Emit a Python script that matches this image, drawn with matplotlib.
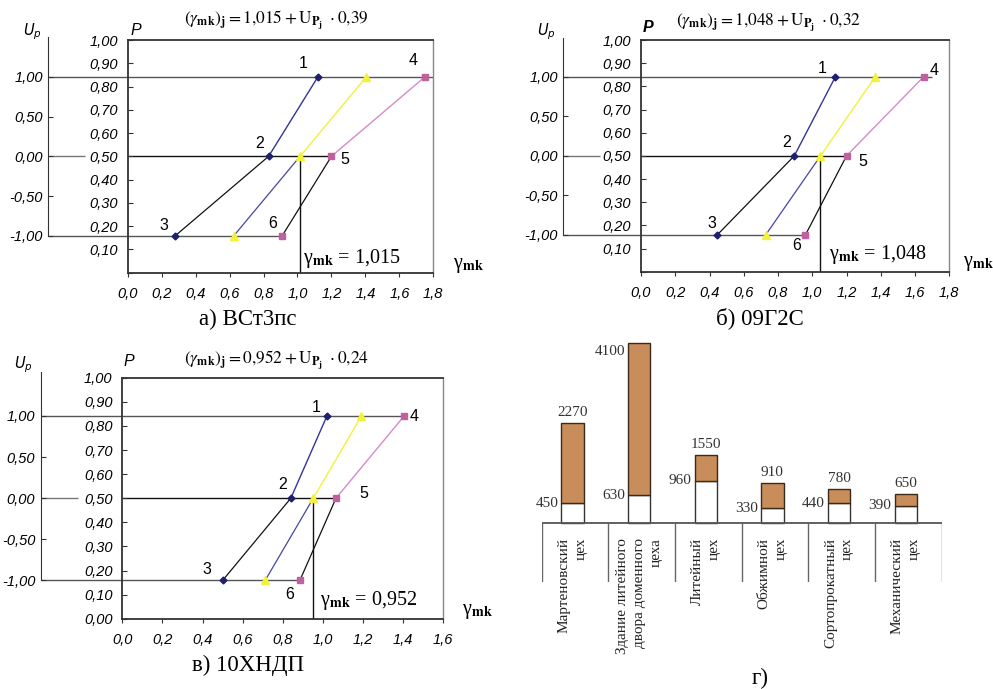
import matplotlib
matplotlib.use('Agg')
import matplotlib.pyplot as plt
import numpy as np

plt.rcParams['font.family'] = ['Liberation Sans', 'DejaVu Sans']

W, H = 993, 689

# ---- data: probability plots (gamma at Up = 1, 0, -1) ----
up_levels = [1.0, 0.0, -1.0]
up_ticks = [1.0, 0.5, 0.0, -0.5, -1.0]

a_curve1 = [1.12, 0.83, 0.28]
a_mean = [1.405, 1.015, 0.625]
a_curve2 = [1.75, 1.20, 0.91]
a_gamma, a_k = 1.015, 0.39

b_curve1 = [1.135, 0.895, 0.445]
b_mean = [1.368, 1.048, 0.728]
b_curve2 = [1.65, 1.20, 0.96]
b_gamma, b_k = 1.048, 0.32

c_curve1 = [1.02, 0.84, 0.50]
c_mean = [1.192, 0.952, 0.712]
c_curve2 = [1.405, 1.065, 0.885]
c_gamma, c_k = 0.952, 0.24

# ---- data: bar chart ----
shops = ["Мартеновский\nцех", "Здание литейного\nдвора доменного\nцеха", "Литейный\nцех",
         "Обжимной\nцех", "Сортопрокатный\nцех", "Механический\nцех"]
low_vals = [450, 630, 960, 330, 440, 390]
high_vals = [2270, 4100, 1550, 910, 780, 650]

NAVY = '#1f1f70'
NAVY_L = '#34349a'
YEL = '#f2f23a'
PINK = '#c0609e'
PINK_L = '#d58bc9'
SERIF = 'Liberation Serif'


def p_of_up(u):
    return 0.5 + 0.3413 * u


def fmt(v, nd):
    return f"{v:.{nd}f}".replace('.', ',')


fig = plt.figure(figsize=(W / 100, H / 100), dpi=100)


def prob_panel(frame, up_x, up_top, xmax, curve1, mean, curve2, gamma, k,
               caption, offs, show_zero, txt):
    l, t, r, b = frame
    ax = fig.add_axes([l / W, 1 - b / H, (r - l) / W, (b - t) / H])
    ax.set_facecolor('none')
    ax.set_xlim(0, xmax)
    ax.set_ylim(0, 1)
    xt = np.round(np.arange(0, xmax + 0.01, 0.2), 1)
    ax.set_xticks(xt)
    ax.set_xticklabels([fmt(v, 1) for v in xt], fontstyle='italic', fontsize=10.5)
    yt = np.round(np.arange(0, 1.001, 0.1), 2)
    ax.set_yticks(yt)
    ax.set_yticklabels([fmt(v, 2) if (v > 0 or show_zero) else '' for v in yt],
                       fontstyle='italic', fontsize=10.5)
    ax.tick_params(axis='y', direction='in', length=3.5, pad=7, color='#333')
    ax.tick_params(axis='x', direction='out', length=3, pad=7, color='#333')
    for s in ax.spines.values():
        s.set_color('#333')
        s.set_linewidth(1.3)
    ax.spines['right'].set_color('#888')
    ax.spines['right'].set_linewidth(1.0)

    p = [p_of_up(u) for u in up_levels]
    x_up = (up_x - l) / (r - l) * xmax
    x_gap = (txt['gap'] - l) / (r - l) * xmax
    ax.hlines(p[0], x_up, txt['top_end'], color='#555', lw=1.0, clip_on=False, zorder=1)
    ax.hlines(p[2], x_up, curve2[2], color='#555', lw=1.0, clip_on=False, zorder=1)
    ax.hlines(p[1], x_up, x_gap, color='#777', lw=1.0, clip_on=False, zorder=1)
    ax.hlines(p[1], 0, curve2[1], color='#111', lw=1.0, zorder=1)
    ax.vlines(gamma, 0, p[1], color='#111', lw=1.0, zorder=1)

    ax.plot(curve1[:2], p[:2], color=NAVY_L, lw=1.0, zorder=2)
    ax.plot(curve1[1:], p[1:], color='#111', lw=0.9, zorder=2)
    ax.plot(mean[:2], p[:2], color=YEL, lw=1.0, zorder=2)
    ax.plot(mean[1:], p[1:], color='#4545a8', lw=0.9, zorder=2)
    ax.plot(curve2[:2], p[:2], color=PINK_L, lw=1.0, zorder=2)
    ax.plot(curve2[1:], p[1:], color='#111', lw=0.9, zorder=2)
    ax.plot(curve1, p, 'D', ms=3.5, color=NAVY, zorder=3)
    ax.plot(mean, p, '^', ms=5.5, color=YEL, zorder=3)
    ax.plot(curve2, p, 's', ms=4.3, color=PINK, zorder=3)

    pts = [(curve1[0], p[0]), (curve1[1], p[1]), (curve1[2], p[2]),
           (curve2[0], p[0]), (curve2[1], p[1]), (curve2[2], p[2])]
    for i, (xy, o) in enumerate(zip(pts, offs)):
        ax.annotate(str(i + 1), xy, xytext=o, textcoords='offset pixels',
                    ha='center', va='center', fontsize=11.5)

    gs = fmt(gamma, 3)
    gsm = gs.replace(',', '{,}')
    ks = fmt(k, 2).replace(',', '{,}')
    ax.text(txt['fx'], txt['fy'],
            r'$(\gamma_{\mathbf{mk}})_{\mathbf{j}} = ' + gsm +
            r' + \mathrm{U}_{\mathbf{P_j}}\ \cdot ' + ks + '$',
            transform=ax.transAxes, ha='center', va='center',
            math_fontfamily='stix', fontsize=12.5)
    ax.text(txt['gx'], txt['gy'], 'γ$_{\\mathbf{mk}}$ = ' + gs,
            ha='left', va='center', family=SERIF, math_fontfamily='stix', fontsize=14.5)
    ax.text(txt['lx'], txt['ly'], 'γ$_{\\mathbf{mk}}$', transform=ax.transAxes,
            ha='left', va='center', family=SERIF, math_fontfamily='stix', fontsize=14.5)
    ax.text(txt['ux'], txt['uy'], r'$U_p$', transform=ax.transAxes, ha='center',
            va='center', math_fontfamily='dejavusans', fontsize=10.5)
    ax.text(txt['px'], txt['py'], 'P', transform=ax.transAxes, ha='center',
            va='center', fontstyle='italic', fontsize=11.5, fontweight=txt['pw'])
    ax.text(txt['cx'], txt['cy'], caption, transform=ax.transAxes, ha='center',
            va='center', family=SERIF, fontsize=16.5)

    # Up axis
    ax_up = fig.add_axes([up_x / W, 1 - b / H, 0.02, (b - up_top) / H])
    ax_up.set_facecolor('none')
    top_p = (b - up_top) / (b - t)
    ax_up.set_ylim((0 - 0.5) / 0.3413, (top_p - 0.5) / 0.3413)
    for s in ['right', 'top', 'bottom']:
        ax_up.spines[s].set_visible(False)
    ax_up.spines['left'].set_bounds(-1, (top_p - 0.5) / 0.3413)
    ax_up.spines['left'].set_color('#333')
    ax_up.set_xticks([])
    ax_up.set_yticks(up_ticks)
    ax_up.set_yticklabels([fmt(v, 2) for v in up_ticks], fontstyle='italic', fontsize=10.5)
    ax_up.tick_params(axis='y', direction='in', length=3.5, pad=4, color='#333')
    return ax


prob_panel((127.7, 40, 433.3, 272.7), 48.3, 36.7, 1.8, a_curve1, a_mean, a_curve2,
           a_gamma, a_k, 'а) ВСт3пс',
           [(-15, 13), (-9, 13), (-11, 10), (-12, 16), (13, -3), (-10, 12)], False,
           dict(gap=85, top_end=1.8, fx=0.488, fy=1.086, gx=1.035, gy=0.062,
                lx=1.064, ly=0.03, ux=-0.313, uy=1.034, px=0.026, py=1.039,
                cx=0.394, cy=-0.203, pw='normal'))

prob_panel((641, 40, 949.3, 271.7), 563.3, 37.7, 1.8, b_curve1, b_mean, b_curve2,
           b_gamma, b_k, 'б) 09Г2С',
           [(-13, 8), (-8, 13), (-5, 11), (11, 6), (16, -6), (-9, -11)], False,
           dict(gap=600, top_end=1.70, fx=0.413, fy=1.075, gx=1.10, gy=0.076,
                lx=1.044, ly=0.035, ux=-0.306, uy=1.036, px=0.022, py=1.052,
                cx=0.386, cy=-0.200, pw='bold'))

prob_panel((122.3, 377.7, 443.3, 618.7), 40.7, 371.7, 1.6, c_curve1, c_mean, c_curve2,
           c_gamma, c_k, 'в) 10ХНДП',
           [(-11, 8), (-8, 14), (-16, 11), (10, -1), (28, 5), (-10, -14)], True,
           dict(gap=78.3, top_end=c_curve2[0], fx=0.482, fy=1.073, gx=0.985, gy=0.075,
                lx=1.057, ly=0.03, ux=-0.308, uy=1.053, px=0.021, py=1.066,
                cx=0.392, cy=-0.192, pw='normal'))

# ---- bar chart г) ----
axd = fig.add_axes([541.7 / W, 1 - 581.7 / H, 400 / W, (581.7 - 335) / H])
axd.set_xlim(-0.5, 5.5)
axd.set_ylim(-1348, 4289)
axd.axis('off')
x = np.arange(len(shops)) - 0.04
low = np.array(low_vals)
high = np.array(high_vals)
axd.bar(x, low, width=0.336, color='white', edgecolor='#333', lw=1.0, zorder=2)
axd.bar(x, high - low, bottom=low, width=0.336, color='#c98d5b', edgecolor='#3a2a1a',
        lw=1.0, zorder=2)
axd.hlines(0, -0.5, 5.5, color='#555', lw=1.3, zorder=3)
axd.vlines(np.arange(len(shops) + 1) - 0.5, -1348, 0, color='#666', lw=1.0)
for i in range(len(shops)):
    axd.text(x[i], -350, shops[i], rotation=90, ha='center', va='top',
             multialignment='right', family=SERIF, fontsize=11, color='#222',
             linespacing=1.4)
    if high[i] == high.max():
        axd.annotate(str(high[i]), (x[i] - 0.168, high[i]), xytext=(-3, -8),
                     textcoords='offset pixels', ha='right', va='center',
                     family=SERIF, fontsize=11, color='#333')
    else:
        axd.annotate(str(high[i]), (x[i], high[i]), xytext=(0, 4),
                     textcoords='offset pixels', ha='center', va='bottom',
                     family=SERIF, fontsize=11, color='#333')
    axd.annotate(str(low[i]), (x[i] - 0.168, low[i]), xytext=(-3, 0),
                 textcoords='offset pixels', ha='right', va='center',
                 family=SERIF, fontsize=11, color='#333')
fig.text(760 / W, 1 - 678 / H, 'г)', ha='center', va='center', family=SERIF, fontsize=16.5)

fig.savefig('out.png', dpi=100)
